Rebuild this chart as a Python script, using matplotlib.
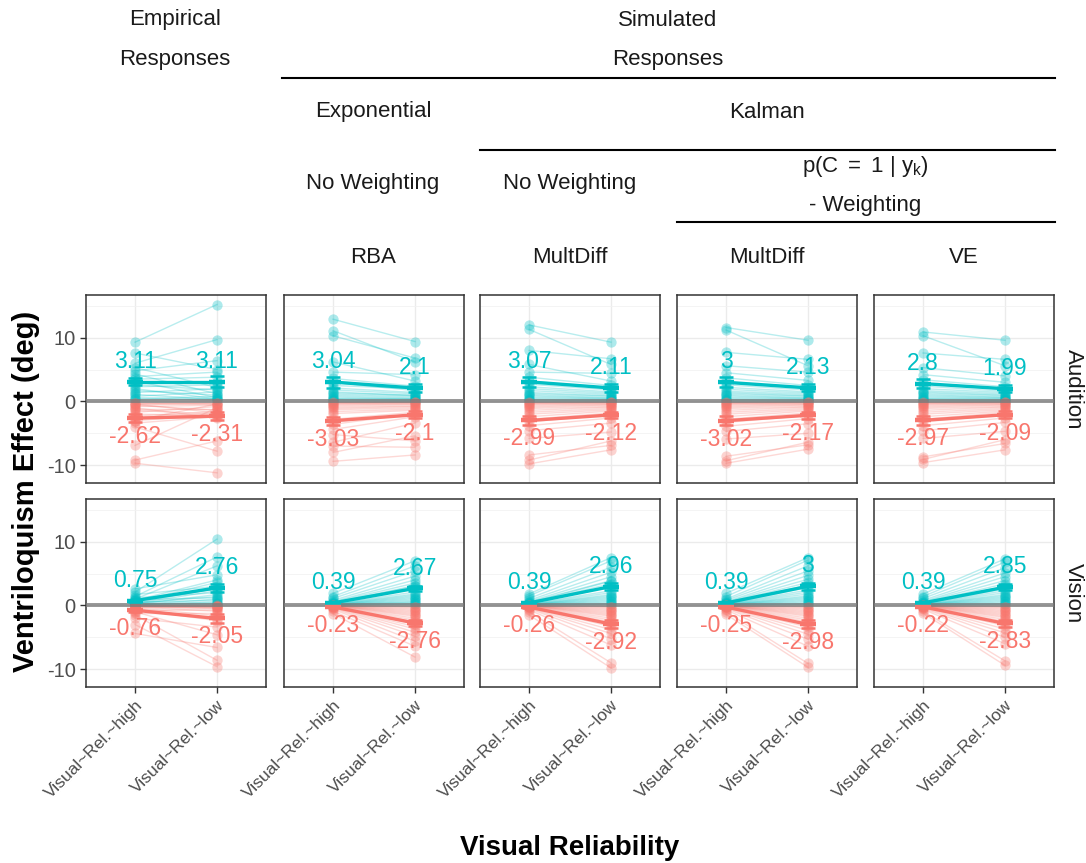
import numpy as np
import matplotlib
matplotlib.use("Agg")
import matplotlib.pyplot as plt
from matplotlib.lines import Line2D

plt.rcParams['font.family'] = ['Liberation Sans', 'DejaVu Sans']
plt.rcParams['mathtext.fontset'] = 'custom'
plt.rcParams['mathtext.rm'] = 'Liberation Sans'
plt.rcParams['mathtext.it'] = 'Liberation Sans'

# ---------------- data ----------------
models = ["emp", "rba", "md", "mdw", "ve"]
modalities = ["Audition", "Vision"]
x_labels = ["Visual~Rel.~high", "Visual~Rel.~low"]

# per-participant ventriloquism effects (deg): high / low visual reliability
emp_aud_pos_hi = [9.3, 7.6, 6.0, 5.3, 4.8, 4.3, 3.9, 3.5, 3.2, 2.9, 2.6, 2.3, 2.0, 1.7, 1.4, 1.1, 0.8, 0.6, 0.4, 0.2]
emp_aud_pos_lo = [15.2, 5.0, 9.7, 2.2, 6.4, 1.2, 4.6, 3.8, 0.6, 3.0, 1.8, 2.6, 0.4, 1.0, 2.0, 0.3, 1.5, 0.2, 0.8, 0.5]
emp_aud_neg_hi = [-9.7, -9.2, -6.9, -4.0, -3.4, -3.0, -3.0, -2.6, -2.3, -2.0, -1.7, -1.4, -1.2, -1.0, -0.8, -0.6, -0.5, -0.4, -0.3, -0.2]
emp_aud_neg_lo = [-11.2, -6.2, -1.0, -7.8, -2.4, -2.2, -0.4, -1.9, -1.6, -2.2, -0.8, -2.0, -1.2, -2.6, -0.6, -1.4, -0.3, -1.8, -0.5, -0.2]
emp_vis_pos_hi = [2.6, 2.1, 1.7, 1.4, 1.2, 1.0, 0.9, 0.8, 0.7, 0.6, 0.5, 0.4, 0.35, 0.3, 0.25, 0.2, 0.15, 0.1, 0.05, 0.0]
emp_vis_pos_lo = [4.8, 10.4, 3.0, 7.6, 2.0, 6.2, 1.2, 4.0, 2.6, 3.6, 0.8, 2.7, 1.4, 2.3, 0.4, 1.7, 0.3, 1.0, 0.6, 0.2]
emp_vis_neg_hi = [-4.4, -3.0, -2.0, -1.5, -1.2, -1.0, -0.8, -0.6, -0.5, -0.4, -0.3, -0.25, -0.2, -0.15, -0.1, -0.1, -0.05, -0.05, 0.0, 0.0]
emp_vis_neg_lo = [-6.6, -9.6, -3.4, -8.6, -1.2, -4.6, -0.7, -2.4, -2.2, -1.6, -0.9, -0.4, -0.5, -0.2, -0.3, -0.1, -0.2, -0.1, 0.0, -0.1]

rba_aud_pos_hi = [12.9, 11.1, 10.3, 6.2, 4.6, 3.6, 3.0, 2.5, 2.1, 1.8, 1.5, 1.3, 1.1, 0.9, 0.7, 0.5, 0.4, 0.3, 0.2, 0.1]
rba_aud_pos_lo = [9.4, 6.2, 6.8, 3.2, 4.2, 2.4, 1.7, 2.0, 1.4, 1.2, 0.9, 1.0, 0.8, 0.6, 0.4, 0.5, 0.3, 0.2, 0.1, 0.1]
rba_aud_neg_hi = [-9.4, -8.0, -7.0, -6.4, -5.2, -4.4, -3.6, -3.2, -2.8, -1.9, -1.6, -1.3, -1.1, -0.9, -0.7, -0.5, -0.4, -0.3, -0.2, -0.1]
rba_aud_neg_lo = [-8.4, -5.4, -7.2, -3.4, -6.2, -2.4, -1.9, -2.0, -1.7, -1.4, -1.2, -1.0, -0.8, -0.7, -0.5, -0.4, -0.3, -0.2, -0.1, -0.1]
rba_vis_pos_hi = [1.9, 1.4, 1.1, 0.8, 0.6, 0.5, 0.4, 0.35, 0.3, 0.25, 0.2, 0.15, 0.12, 0.1, 0.08, 0.06, 0.05, 0.04, 0.02, 0.01]
rba_vis_pos_lo = [7.0, 6.2, 5.4, 4.6, 4.0, 3.5, 3.1, 3.0, 2.8, 2.1, 1.8, 1.6, 1.4, 1.2, 1.0, 0.8, 0.6, 0.5, 0.3, 0.2]
rba_vis_neg_hi = [-1.3, -0.9, -0.6, -0.45, -0.35, -0.3, -0.25, -0.2, -0.16, -0.13, -0.1, -0.08, -0.06, -0.05, -0.04, -0.03, -0.02, -0.02, -0.01, 0.0]
rba_vis_neg_lo = [-8.1, -6.4, -5.6, -4.8, -4.2, -3.7, -3.3, -2.9, -2.6, -2.3, -2.0, -1.7, -1.5, -1.3, -1.1, -0.9, -0.7, -0.5, -0.3, -0.2]

md_aud_pos_hi = [12.0, 11.3, 8.0, 5.8, 4.6, 3.8, 3.2, 2.7, 2.3, 2.0, 1.7, 1.4, 1.2, 1.0, 0.8, 0.6, 0.4, 0.3, 0.2, 0.1]
md_aud_pos_lo = [9.3, 5.8, 6.7, 3.2, 4.4, 2.5, 2.1, 1.8, 1.5, 1.3, 1.1, 0.9, 0.8, 0.6, 0.5, 0.4, 0.3, 0.2, 0.1, 0.1]
md_aud_neg_hi = [-9.8, -9.2, -8.4, -5.8, -4.6, -3.8, -3.2, -2.8, -2.4, -2.0, -1.7, -1.4, -1.1, -0.9, -0.7, -0.5, -0.4, -0.3, -0.2, -0.1]
md_aud_neg_lo = [-7.6, -6.2, -6.9, -4.8, -3.4, -2.6, -2.1, -1.8, -1.5, -1.3, -1.1, -0.9, -0.8, -0.6, -0.5, -0.4, -0.3, -0.2, -0.1, -0.1]
md_vis_pos_hi = [1.8, 1.5, 1.1, 0.8, 0.6, 0.5, 0.4, 0.35, 0.3, 0.25, 0.2, 0.15, 0.12, 0.1, 0.08, 0.06, 0.05, 0.04, 0.02, 0.01]
md_vis_pos_lo = [7.5, 7.0, 6.0, 5.2, 4.5, 3.9, 3.8, 3.4, 3.0, 2.3, 2.0, 1.7, 1.5, 1.3, 1.1, 0.9, 0.7, 0.5, 0.3, 0.2]
md_vis_neg_hi = [-1.5, -1.0, -0.7, -0.5, -0.4, -0.32, -0.26, -0.2, -0.16, -0.13, -0.1, -0.08, -0.06, -0.05, -0.04, -0.03, -0.02, -0.02, -0.01, 0.0]
md_vis_neg_lo = [-9.8, -9.0, -6.2, -5.2, -4.4, -3.8, -3.3, -2.9, -2.6, -2.3, -2.0, -1.7, -1.5, -1.3, -1.1, -0.9, -0.7, -0.5, -0.3, -0.2]

mdw_aud_pos_hi = [11.6, 11.2, 7.7, 5.6, 4.5, 3.7, 3.1, 2.6, 2.2, 1.9, 1.6, 1.4, 1.2, 1.0, 0.8, 0.6, 0.4, 0.3, 0.2, 0.1]
mdw_aud_pos_lo = [9.6, 5.6, 6.6, 4.6, 3.3, 2.5, 2.1, 1.8, 1.5, 1.3, 1.1, 0.9, 0.8, 0.6, 0.5, 0.4, 0.3, 0.2, 0.1, 0.1]
mdw_aud_neg_hi = [-9.7, -9.3, -8.6, -5.9, -4.7, -3.9, -3.3, -2.8, -2.4, -2.0, -1.7, -1.4, -1.1, -0.9, -0.7, -0.5, -0.4, -0.3, -0.2, -0.1]
mdw_aud_neg_lo = [-7.5, -6.4, -6.8, -5.0, -3.5, -2.7, -2.2, -1.8, -1.5, -1.3, -1.1, -0.9, -0.8, -0.6, -0.5, -0.4, -0.3, -0.2, -0.1, -0.1]
mdw_vis_pos_hi = [1.9, 1.4, 1.0, 0.8, 0.6, 0.5, 0.42, 0.35, 0.3, 0.25, 0.2, 0.16, 0.12, 0.1, 0.08, 0.06, 0.05, 0.03, 0.02, 0.01]
mdw_vis_pos_lo = [7.5, 7.1, 6.2, 5.4, 4.7, 4.1, 3.6, 3.2, 2.8, 2.4, 2.1, 1.8, 1.5, 1.3, 1.1, 0.9, 0.7, 0.5, 0.3, 0.2]
mdw_vis_neg_hi = [-1.4, -1.0, -0.7, -0.5, -0.38, -0.3, -0.25, -0.2, -0.16, -0.13, -0.1, -0.08, -0.06, -0.05, -0.04, -0.03, -0.02, -0.02, -0.01, 0.0]
mdw_vis_neg_lo = [-9.7, -9.1, -6.4, -5.3, -4.5, -3.9, -3.4, -3.0, -2.6, -2.3, -2.0, -1.7, -1.5, -1.3, -1.1, -0.9, -0.7, -0.5, -0.3, -0.2]

ve_aud_pos_hi = [10.9, 10.3, 7.6, 5.3, 4.2, 3.4, 2.8, 2.4, 2.0, 1.7, 1.5, 1.3, 1.1, 0.9, 0.7, 0.5, 0.4, 0.3, 0.2, 0.1]
ve_aud_pos_lo = [9.6, 5.6, 6.6, 4.0, 3.0, 2.3, 1.9, 1.6, 1.4, 1.2, 1.0, 0.9, 0.7, 0.6, 0.5, 0.4, 0.3, 0.2, 0.1, 0.1]
ve_aud_neg_hi = [-9.6, -9.1, -8.7, -5.8, -4.6, -3.8, -3.2, -2.8, -2.4, -2.0, -1.7, -1.4, -1.1, -0.9, -0.7, -0.5, -0.4, -0.3, -0.2, -0.1]
ve_aud_neg_lo = [-7.6, -6.0, -6.6, -4.7, -3.3, -2.6, -2.1, -1.7, -1.5, -1.3, -1.1, -0.9, -0.8, -0.6, -0.5, -0.4, -0.3, -0.2, -0.1, -0.1]
ve_vis_pos_hi = [1.8, 1.4, 1.1, 0.8, 0.6, 0.5, 0.4, 0.35, 0.3, 0.25, 0.2, 0.15, 0.12, 0.1, 0.08, 0.06, 0.05, 0.04, 0.02, 0.01]
ve_vis_pos_lo = [7.3, 6.8, 5.9, 5.1, 4.5, 3.9, 3.4, 3.0, 2.6, 2.3, 2.0, 1.7, 1.5, 1.3, 1.1, 0.9, 0.7, 0.5, 0.3, 0.2]
ve_vis_neg_hi = [-1.2, -0.9, -0.6, -0.45, -0.35, -0.28, -0.22, -0.18, -0.15, -0.12, -0.1, -0.08, -0.06, -0.05, -0.04, -0.03, -0.02, -0.02, -0.01, 0.0]
ve_vis_neg_lo = [-9.4, -8.7, -6.0, -5.0, -4.3, -3.7, -3.2, -2.8, -2.5, -2.2, -1.9, -1.7, -1.5, -1.3, -1.1, -0.9, -0.7, -0.5, -0.3, -0.2]

# group means (high, low) as reported on the chart
mean_aud_pos = {"emp": (3.11, 3.11), "rba": (3.04, 2.1), "md": (3.07, 2.11), "mdw": (3.0, 2.13), "ve": (2.8, 1.99)}
mean_aud_neg = {"emp": (-2.62, -2.31), "rba": (-3.03, -2.1), "md": (-2.99, -2.12), "mdw": (-3.02, -2.17), "ve": (-2.97, -2.09)}
mean_vis_pos = {"emp": (0.75, 2.76), "rba": (0.39, 2.67), "md": (0.39, 2.96), "mdw": (0.39, 3.0), "ve": (0.39, 2.85)}
mean_vis_neg = {"emp": (-0.76, -2.05), "rba": (-0.23, -2.76), "md": (-0.26, -2.92), "mdw": (-0.25, -2.98), "ve": (-0.22, -2.83)}

ns = globals()
means = {("Audition", "pos"): mean_aud_pos, ("Audition", "neg"): mean_aud_neg,
         ("Vision", "pos"): mean_vis_pos, ("Vision", "neg"): mean_vis_neg}

POS_COL = "#00BFC4"
NEG_COL = "#F8766D"

# ---------------- layout ----------------
W, H = 1086, 863
fig = plt.figure(figsize=(W / 100, H / 100), dpi=100)
col_left = [86, 284, 480, 677, 874]
panel_w = 180
row_top = [295, 499]
panel_h = 188


def fx(px):
    return px / W


def fy(py):
    return 1 - py / H


for r, mod in enumerate(modalities):
    mkey = "aud" if mod == "Audition" else "vis"
    for c, model in enumerate(models):
        ax = fig.add_axes([fx(col_left[c]), fy(row_top[r] + panel_h), panel_w / W, panel_h / H])
        ax.set_xlim(0.4, 2.6)
        ax.set_ylim(-12.8, 16.7)
        ax.set_yticks([-10, 0, 10])
        ax.set_yticks([-5, 5, 15], minor=True)
        ax.set_xticks([1, 2])
        ax.grid(True, which="major", color="#EBEBEB", lw=1.0, zorder=0)
        ax.grid(True, which="minor", axis="y", color="#F2F2F2", lw=0.6, zorder=0)
        ax.set_axisbelow(True)
        for sp in ax.spines.values():
            sp.set_color("#333333")
            sp.set_linewidth(1.1)
        ax.axhline(0, color="#7A7A7A", lw=2.8, alpha=0.8, zorder=2.6)

        for sign, col, off in (("pos", POS_COL, 3.2), ("neg", NEG_COL, -2.9)):
            hi = np.array(ns[f"{model}_{mkey}_{sign}_hi"])
            lo = np.array(ns[f"{model}_{mkey}_{sign}_lo"])
            for a, b in zip(hi, lo):
                ax.plot([1, 2], [a, b], color=col, alpha=0.28, lw=1.0, zorder=2)
            ax.scatter(np.ones_like(hi), hi, s=55, color=col, alpha=0.32, lw=0, zorder=2.2)
            ax.scatter(np.full_like(lo, 2), lo, s=55, color=col, alpha=0.32, lw=0, zorder=2.2)
            m_hi, m_lo = means[(mod, sign)][model]
            se = [hi.std(ddof=1) / np.sqrt(len(hi)), lo.std(ddof=1) / np.sqrt(len(lo))]
            ax.plot([1, 2], [m_hi, m_lo], color=col, lw=2.4, zorder=3)
            ax.errorbar([1, 2], [m_hi, m_lo], yerr=se, fmt="none", ecolor=col,
                        elinewidth=1.6, capsize=5, capthick=1.8, zorder=3.1)
            ax.plot([1, 2], [m_hi, m_lo], ls="none", marker="_", ms=11, mew=3.2,
                    color=col, zorder=3.2)
            for xp, mv in ((1, m_hi), (2, m_lo)):
                ax.text(xp, mv + off, f"{mv:g}", color=col, fontsize=16.5,
                        ha="center", va="center", zorder=4)

        ax.tick_params(axis="both", which="major", colors="#333333", length=4, width=1.0,
                       labelcolor="#4D4D4D", labelsize=12.5)
        ax.tick_params(axis="y", which="minor", length=0)
        ax.tick_params(axis="y", labelsize=14.5)
        if c == 0:
            ax.set_yticklabels(["-10", "0", "10"])
        else:
            ax.tick_params(axis="y", which="major", length=0, labelleft=False)
        if r == 1:
            ax.set_xticklabels(x_labels, rotation=45, ha="right", rotation_mode="anchor")
        else:
            ax.tick_params(axis="x", length=0, labelbottom=False)
        if c == len(models) - 1:
            ax.text(1.05, 0.5, mod, transform=ax.transAxes, rotation=-90, fontsize=16,
                    color="#1A1A1A", ha="left", va="center")

# ---------------- header ----------------
hdr = dict(fontsize=16, color="#1A1A1A", ha="center", va="center")
fig.text(fx(175), fy(20), "Empirical", **hdr)
fig.text(fx(175), fy(59), "Responses", **hdr)
fig.text(fx(668), fy(20), "Simulated", **hdr)
fig.text(fx(668), fy(59), "Responses", **hdr)
fig.text(fx(373), fy(112), "Exponential", **hdr)
fig.text(fx(767), fy(113), "Kalman", **hdr)
fig.text(fx(373), fy(184), "No Weighting", **hdr)
fig.text(fx(570), fy(184), "No Weighting", **hdr)
fig.text(fx(865), fy(166), r"p$\left(\mathrm{C\ =\ 1\ |\ y_k}\right)$", **hdr)
fig.text(fx(865), fy(206), "- Weighting", **hdr)
for xc, name in zip([373, 570, 767, 964], ["RBA", "MultDiff", "MultDiff", "VE"]):
    fig.text(fx(xc), fy(257), name, **hdr)

for x0, x1, yy in ((282, 1055, 78), (480, 1055, 150), (677, 1055, 222)):
    fig.add_artist(Line2D([fx(x0), fx(x1)], [fy(yy), fy(yy)], transform=fig.transFigure,
                          color="black", lw=1.5))

fig.text(fx(26), fy(491), "Ventriloquism Effect (deg)", rotation=90, fontsize=21,
         fontweight="bold", ha="center", va="center")
fig.text(fx(570), fy(848), "Visual Reliability", fontsize=20, fontweight="bold",
         ha="center", va="center")

fig.savefig("out.png", dpi=100, facecolor="white")
